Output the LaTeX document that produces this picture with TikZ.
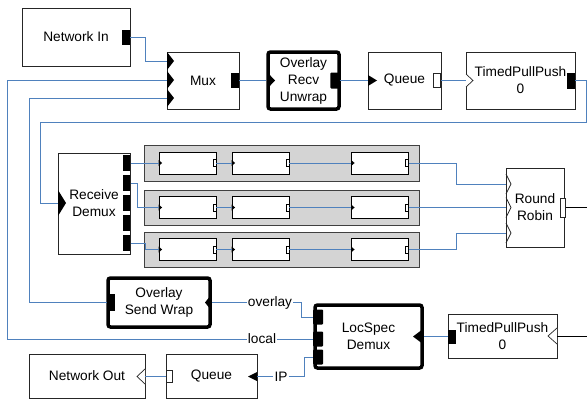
\documentclass[tikz,border=0pt]{standalone}
\usepackage{fontspec}
\setmainfont{Liberation Sans}
\usetikzlibrary{positioning,calc}
\definecolor{wireblue}{RGB}{79,129,189}
\definecolor{bandgray}{RGB}{212,212,212}

\begin{document}
\begin{tikzpicture}[
    x=1pt,
    y=-1pt,
    font=\fontsize{13.7}{17}\selectfont,
    blk/.style={draw=black!85, fill=white, line width=0.9pt, align=center, inner sep=0pt},
    heavy/.style={blk, draw=black, line width=3.5pt, rounded corners=2.5pt},
    band/.style={draw=black!75, fill=bandgray, line width=1pt, minimum width=275pt, inner sep=0pt},
    elem/.style={draw=black, fill=white, line width=0.8pt, minimum width=57pt, minimum height=22pt, inner sep=0pt},
    outport/.style={fill=black, minimum width=8pt, minimum height=15pt, inner sep=0pt},
    pullport/.style={draw=black!85, fill=white, line width=0.7pt, minimum width=6pt, minimum height=13pt, inner sep=0pt},
    tinyport/.style={draw=black, fill=white, line width=0.6pt, minimum width=3pt, minimum height=7pt, inner sep=0pt},
    wire/.style={draw=wireblue, line width=1pt},
    bwire/.style={draw=black, line width=0.8pt},
    wlabel/.style={inner sep=1pt},
  ]

  \fill[white] (0,0) rectangle (587,399);
  \useasboundingbox (0,0) rectangle (587,399);

  % === Receive path (top row) ===
  \node[blk, minimum width=108pt, minimum height=58pt] (netin) at (76,37) {Network In};
  \node[outport, anchor=east] (netin-o) at (130,37) {};

  \node[blk, minimum width=72pt, minimum height=57pt] (mux) at (203,80.5) {Mux};
  \foreach \k/\y in {1/61, 2/80, 3/98} {
    \fill (167,\y-9) -- (174,\y) -- (167,\y+9) -- cycle;
    \coordinate (mux-i\k) at (167,\y);
  }
  \node[outport, anchor=east] (mux-o) at (239,80.5) {};

  \node[heavy, minimum width=71pt, minimum height=57pt] (orw) at (303.5,80.5) {Overlay\\Recv\\Unwrap};
  \fill (267,72) -- (275,80.5) -- (267,89) -- cycle;
  \coordinate (orw-i) at (266,80.5);
  \node[outport, anchor=east, minimum width=9pt, minimum height=16pt, rounded corners=1pt] (orw-o) at (339.5,80.5) {};

  \node[blk, minimum width=73pt, minimum height=57pt] (q1) at (404.5,80.5) {Queue};
  \fill (368,75) -- (377,80.5) -- (368,86) -- cycle;
  \coordinate (q1-i) at (368,80.5);
  \node[pullport, anchor=east, minimum width=7pt, minimum height=14pt] (q1-o) at (441,80.5) {};

  \node[blk, minimum width=109pt, minimum height=57pt] (tpp1) at (520.5,80.5) {TimedPullPush\\0};
  \draw[black!85, fill=white, line width=0.7pt] (466,74) -- (473,80.5) -- (466,87);
  \coordinate (tpp1-i) at (466,80.5);
  \node[outport, anchor=east, minimum height=16pt] (tpp1-o) at (575,80.5) {};

  % === Receive demux and per-flow bands ===
  \node[blk, minimum width=72pt, minimum height=101pt] (rd) at (94,203.5) {Receive\\Demux};
  \fill (58,190) -- (66,203) -- (58,216) -- cycle;
  \coordinate (rd-i) at (58,203);
  \foreach \k/\y in {1/163, 2/183, 3/203, 4/223, 5/243} {
    \node[outport, anchor=east, minimum width=7pt, minimum height=16pt] (rd-o\k) at (130.5,\y) {};
  }

  \foreach \n/\y/\h in {1/163/36, 2/207.5/35, 3/249.5/35} {
    \node[band, minimum height=\h pt] (band\n) at (281.5,\y) {};
    \foreach \m/\x in {1/187.5, 2/260.5, 3/380} {
      \node[elem] (b\n-\m) at (\x,\y) {};
      \fill ($(b\n-\m.west)+(0,-3)$) -- ++(3.5,3) -- ++(-3.5,3) -- cycle;
      \node[tinyport, anchor=east] (b\n-\m o) at (b\n-\m.east) {};
    }
    \draw[wire] (b\n-1o.east) -- (b\n-2.west);
    \draw[wire] (b\n-2o.east) -- (b\n-3.west);
  }

  \node[blk, minimum width=58pt, minimum height=79pt] (rr) at (535,207.5) {Round\\Robin};
  \foreach \k/\y in {1/184, 2/207.5, 3/233} {
    \draw[black!85, line width=0.7pt] (506,\y-10) -- (511,\y) -- (506,\y+10);
    \coordinate (rr-i\k) at (506,\y);
  }
  \node[pullport, minimum width=5pt, minimum height=19pt] (rr-o) at (563,207.5) {};
  \coordinate (edgeR1) at (587,207.5);

  % === Send path (bottom) ===
  \node[heavy, minimum width=102pt, minimum height=49pt] (ows) at (159,302.5) {Overlay\\Send Wrap};
  \node[outport, anchor=west, minimum height=17pt] (ows-o) at (106.5,302.5) {};
  \fill (211,295) -- (205,302.5) -- (211,310) -- cycle;
  \coordinate (ows-i) at (212,302.5);

  \node[heavy, minimum width=107pt, minimum height=63pt] (ls) at (368.5,336.5) {LocSpec\\Demux};
  \foreach \k/\y in {1/317, 2/339, 3/357} {
    \node[outport, anchor=west, minimum width=10pt, minimum height=15pt, rounded corners=1pt] (ls-o\k) at (313,\y) {};
  }
  \fill (423,329) -- (413,336.5) -- (423,344) -- cycle;
  \coordinate (ls-i) at (424,336.5);

  \node[blk, minimum width=109pt, minimum height=44pt] (tpp2) at (502.5,336) {TimedPullPush\\0};
  \node[outport, anchor=west, minimum height=14pt] (tpp2-o) at (448,336.5) {};
  \draw[black!85, fill=white, line width=0.7pt] (557,328) -- (548,336) -- (557,344);
  \coordinate (tpp2-i) at (557,336);
  \coordinate (edgeR2) at (587,336);

  \node[blk, minimum width=116pt, minimum height=44pt] (netout) at (87,376) {Network Out};
  \draw[black!85, fill=white, line width=0.7pt] (145,369) -- (137,376.5) -- (145,384);
  \coordinate (no-i) at (145,376.5);

  \node[blk, minimum width=91pt, minimum height=44pt] (q2) at (211.5,376) {Queue};
  \node[pullport, anchor=west, minimum height=12pt] (q2-o) at (166,376.5) {};
  \fill (257,372) -- (248,376.5) -- (257,381) -- cycle;
  \coordinate (q2-i) at (257,376.5);

  % Wire labels
  \node[wlabel] (lbl-ov) at (270,302.5) {overlay};
  \node[wlabel] (lbl-lc) at (262,339) {local};
  \node[wlabel] (lbl-ip) at (281,376.5) {IP};

  % === Connections ===
  \draw[wire] (netin-o.east) -- ++(15,0) |- (mux-i1);
  \draw[wire] (mux-o.east) -- (orw-i);
  \draw[wire] (orw-o.east) -- (q1-i);
  \draw[wire] (q1-o.east) -- (tpp1-i);
  \draw[wire] (tpp1-o.east) -- ++(11,0) |- (40,122) |- (rd-i);

  \draw[wire] (rd-o1.east) -- (b1-1.west);
  \draw[wire] (rd-o2.east) -- ++(7,0) |- (b2-1.west);
  \draw[wire] (rd-o5.east) -- ++(15,0) |- (b3-1.west);

  \draw[wire] (b1-3o.east) -- ++(48,0) |- (rr-i1);
  \draw[wire] (b2-3o.east) -- (rr-i2);
  \draw[wire] (b3-3o.east) -- ++(48,0) |- (rr-i3);
  \draw[bwire] (rr-o.east) -- (edgeR1);

  \draw[wire] (mux-i2) -- ++(-160,0) |- (lbl-lc.west);
  \draw[wire] (lbl-lc.east) -- (ls-o2.west);
  \draw[wire] (mux-i3) -- ++(-138,0) |- (ows-o.west);

  \draw[wire] (ows-i) -- (lbl-ov.west);
  \draw[wire] (lbl-ov.east) -- ++(8,0) |- (ls-o1.west);
  \draw[wire] (tpp2-o.west) -- (ls-i);
  \draw[bwire] (edgeR2) -- (tpp2-i);
  \draw[wire] (q2-i) -- (lbl-ip.west);
  \draw[wire] (lbl-ip.east) -- ++(16,0) |- (ls-o3.west);
  \draw[wire] (q2-o.west) -- (no-i);

\end{tikzpicture}
\end{document}
